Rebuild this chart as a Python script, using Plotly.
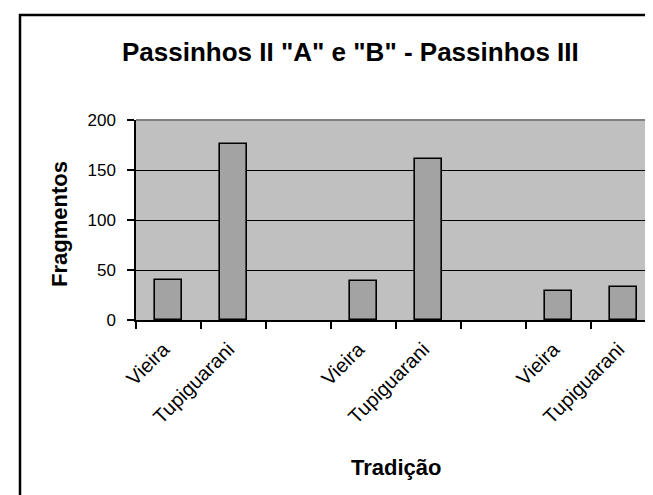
import plotly.graph_objects as go

categories = ["Vieira", "Tupiguarani", "", "Vieira", "Tupiguarani", "", "Vieira", "Tupiguarani"]
fragmentos = [40, 176, None, 39, 161, None, 29, 33]
y_ticks = [0, 50, 100, 150, 200]

title_text = 'Passinhos II "A" e "B" - Passinhos III'
x_title = "Tradição"
y_title = "Fragmentos"

W, H = 653, 495
L, R, T, B = 128, 5, 112, 183
pw, ph = W - L - R, H - T - B

def px_to_paper_x(px):
    return (px - L) / pw

def px_to_paper_y(py):
    return (H - B - py) / ph

FONT = "Liberation Sans, Arial, sans-serif"
xpos = list(range(len(categories)))

fig = go.Figure()
fig.add_trace(go.Bar(
    x=xpos, y=fragmentos, width=0.42,
    marker=dict(color="#A3A3A3", line=dict(color="black", width=1.6)),
))

fig.update_layout(
    width=W, height=H,
    margin=dict(l=L, r=R, t=T, b=B),
    paper_bgcolor="white", plot_bgcolor="#C0C0C0",
    showlegend=False,
    bargap=0,
    font=dict(family=FONT, color="black"),
)
fig.update_xaxes(
    range=[-0.5, len(categories) - 0.5], tickmode="array", tickvals=xpos, ticktext=categories,
    tickangle=-45, ticks="", showgrid=False, zeroline=False,
    showline=True, linecolor="black", linewidth=1.5,
    tickfont=dict(family=FONT, size=20, color="black"),
    ticklabelstandoff=8, ticklabelshift=-5,
    minor=dict(tickmode="array", tickvals=[i - 0.5 for i in range(len(categories) + 1)],
               ticks="outside", ticklen=7, tickcolor="black", tickwidth=1.5, showgrid=False),
)
fig.update_yaxes(
    range=[0, 200], tickmode="array", tickvals=y_ticks, ticks="outside", ticklen=7,
    tickcolor="black", tickwidth=1.5, showgrid=True, gridcolor="black", gridwidth=1,
    zeroline=False, showline=True, linecolor="black", linewidth=1.5,
    tickfont=dict(family=FONT, size=17, color="black"),
    ticklabelstandoff=8,
)
# plot area border (top/right grey)
fig.add_shape(type="line", xref="paper", yref="paper", x0=0, x1=1, y0=1, y1=1,
              line=dict(color="#808080", width=2), layer="above")
fig.add_shape(type="line", xref="paper", yref="paper", x0=1, x1=1, y0=0, y1=1,
              line=dict(color="#808080", width=2), layer="above")
# chart area border
fig.add_shape(type="rect", xref="paper", yref="paper",
              x0=px_to_paper_x(12), x1=px_to_paper_x(W + 50),
              y0=px_to_paper_y(H + 50), y1=px_to_paper_y(7),
              line=dict(color="black", width=2.5), fillcolor="rgba(0,0,0,0)", layer="above")

fig.add_annotation(text=title_text, xref="paper", yref="paper",
                   x=px_to_paper_x(342), y=px_to_paper_y(44),
                   showarrow=False, xanchor="center", yanchor="middle",
                   font=dict(family=FONT, size=26, color="black", weight="bold"))
fig.add_annotation(text=x_title, xref="paper", yref="paper", x=0.5, y=px_to_paper_y(459),
                   showarrow=False, xanchor="center", yanchor="middle",
                   font=dict(family=FONT, size=22, color="black", weight="bold"))
fig.add_annotation(text=y_title, xref="paper", yref="paper", x=px_to_paper_x(51), y=px_to_paper_y(216),
                   showarrow=False, xanchor="center", yanchor="middle", textangle=-90,
                   font=dict(family=FONT, size=22, color="black", weight="bold"))

fig.write_html("out.html")
